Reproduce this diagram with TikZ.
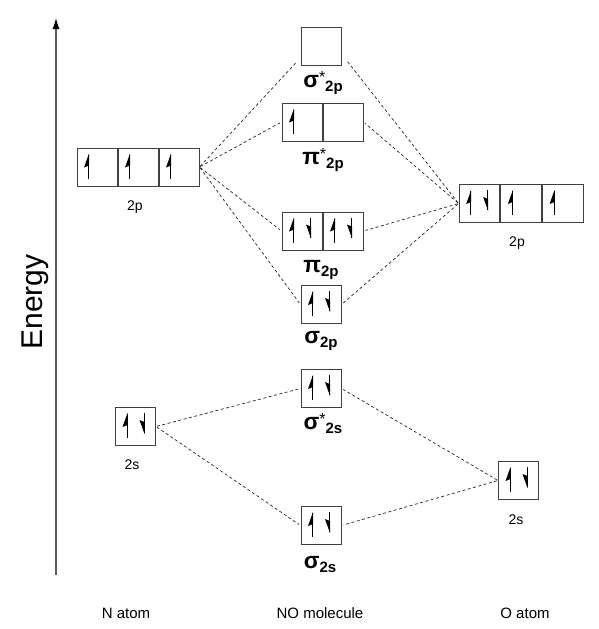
\documentclass[tikz,border=0pt]{standalone}
\usepackage{fontspec}
\setmainfont{Liberation Sans}
\usepackage{tikz}
\usetikzlibrary{positioning,arrows.meta}

\newcommand\spinup[1]{%
  \draw[spin] ([xshift=12pt,yshift=-31pt]#1.north west) -- ([xshift=12pt,yshift=-7pt]#1.north west);
  \fill ([xshift=12.5pt,yshift=-6pt]#1.north west) -- ++(-5,14) -- ++(5,-2) -- cycle;}
\newcommand\spindown[1]{%
  \draw[spin] ([xshift=29pt,yshift=-6pt]#1.north west) -- ([xshift=29pt,yshift=-26pt]#1.north west);
  \fill ([xshift=29.5pt,yshift=-27pt]#1.north west) -- ++(-5,-14) -- ++(5,2) -- cycle;}
\newcommand\orb[3]{{\fontsize{23}{23}\selectfont\bfseries #1}\raisebox{5pt}{\fontsize{16}{16}\selectfont #2}\raisebox{-4pt}{\fontsize{15}{15}\selectfont\bfseries #3}}

\begin{document}
\begin{tikzpicture}[x=1pt,y=-1pt,
    box/.style={draw=black!75, line width=1pt, minimum width=40pt, minimum height=38pt, inner sep=0pt},
    spin/.style={line width=1pt},
    link/.style={black!85, line width=0.7pt, dash pattern=on 3pt off 2.5pt, shorten <=1pt, shorten >=2pt},
    lbl/.style={anchor=base, inner sep=0pt, font=\fontsize{14}{14}\selectfont},
    mo/.style={anchor=base, inner sep=0pt}]
  \useasboundingbox (0,0) rectangle (599,629);

  \draw[black!65, line width=1.2pt, -{Latex[length=11pt,width=7pt,black]}] (56,575) -- (56,18);
  \node[rotate=90, font=\fontsize{30}{30}\selectfont] (energy) at (35,302) {Energy};

  % N atom
  \node[box] (N2pa) at (97,167) {};
  \node[box, right=0pt of N2pa] (N2pb) {};
  \node[box, right=0pt of N2pb] (N2pc) {};
  \node[lbl] (N2pl) at (135,210) {2p};
  \node[box] (N2s) at (135.5,426.5) {};
  \node[lbl] (N2sl) at (132,469) {2s};

  % NO molecule
  \node[box] (S2ps) at (321,46.5) {};
  \node[box] (P2psa) at (302,122) {};
  \node[box, right=0pt of P2psa] (P2psb) {};
  \node[box] (P2pa) at (302,231) {};
  \node[box, right=0pt of P2pa] (P2pb) {};
  \node[box] (S2p) at (321,304.5) {};
  \node[box] (S2ss) at (321,388.5) {};
  \node[box] (S2s) at (321,525.5) {};

  \node[mo] (S2psl) at (323,87) {\orb{σ}{*}{2p}};
  \node[mo] (P2psl) at (323,164) {\orb{π}{*}{2p}};
  \node[mo] (P2pl) at (321,272) {\orb{π}{}{2p}};
  \node[mo] (S2pl) at (321,343) {\orb{σ}{}{2p}};
  \node[mo] (S2ssl) at (323,429) {\orb{σ}{*}{2s}};
  \node[mo] (S2sl) at (320,568) {\orb{σ}{}{2s}};

  % O atom
  \node[box, minimum width=40.7pt] (O2pa) at (479.5,203.5) {};
  \node[box, minimum width=40.7pt, right=0pt of O2pa] (O2pb) {};
  \node[box, minimum width=40.7pt, right=0pt of O2pb] (O2pc) {};
  \node[lbl] (O2pl) at (517,246) {2p};
  \node[box] (O2s) at (518.5,480.5) {};
  \node[lbl] (O2sl) at (516,524) {2s};

  \node[lbl, font=\fontsize{15}{15}\selectfont] (Nl) at (126,618) {N atom};
  \node[lbl, font=\fontsize{15}{15}\selectfont] (NOl) at (320,618) {NO molecule};
  \node[lbl, font=\fontsize{15}{15}\selectfont] (Ol) at (525,618) {O atom};

  % electrons
  \foreach \b in {N2pa,N2pb,N2pc,P2psa,O2pb,O2pc} {\spinup{\b}}
  \foreach \b in {N2s,P2pa,P2pb,S2p,S2ss,S2s,O2pa,O2s} {\spinup{\b}\spindown{\b}}

  % mixing lines
  \coordinate (S2psw) at ([xshift=-3pt,yshift=5pt]S2ps.south west);
  \coordinate (S2pse) at ([xshift=4pt,yshift=7pt]S2ps.south east);
  \draw[link] (N2pc.east) -- (S2psw);
  \draw[link] (N2pc.east) -- (P2psa.west);
  \draw[link] (N2pc.east) -- (P2pa.west);
  \draw[link] (N2pc.east) -- (S2p.west);
  \draw[link] (O2pa.west) -- (S2pse);
  \draw[link] (O2pa.west) -- (P2psb.east);
  \draw[link] (O2pa.west) -- (P2pb.east);
  \draw[link] (O2pa.west) -- (S2p.east);
  \draw[link] (N2s.east) -- (S2ss.west);
  \draw[link] (N2s.east) -- (S2s.west);
  \draw[link] (O2s.west) -- (S2ss.east);
  \draw[link] (O2s.west) -- (S2s.east);
\end{tikzpicture}
\end{document}
